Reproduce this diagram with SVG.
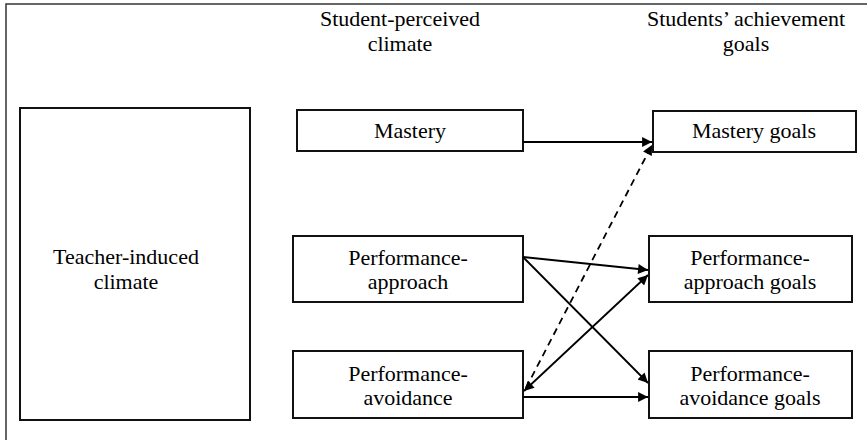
<svg xmlns="http://www.w3.org/2000/svg" width="867" height="440" viewBox="0 0 867 440">
<style>
  .box{fill:#fff;stroke:#111;stroke-width:2}
  text{font-family:'Liberation Serif','Times New Roman','DejaVu Serif',serif;font-size:22px;fill:#000;text-anchor:middle}
  .c{stroke:#000;stroke-width:1.8;fill:none}
  .d{stroke-dasharray:7,5}
</style>
<defs>
  <marker id="ah" viewBox="0 0 10 10" refX="10" refY="5" markerWidth="6.5" markerHeight="5.5" markerUnits="strokeWidth" orient="auto-start-reverse">
    <path d="M0,0 L10,5 L0,10 z" fill="#000"/>
  </marker>
</defs>
<rect x="0" y="0" width="867" height="440" fill="#fff"/>
<path d="M6,440 V4 H867" fill="none" stroke="#333" stroke-width="1.5"/>
<g id="header-perceived">
  <text x="400" y="26">Student-perceived</text>
  <text x="400" y="51">climate</text>
</g>
<g id="header-goals">
  <text x="746" y="26">Students’ achievement</text>
  <text x="746" y="51">goals</text>
</g>
<g id="teacher">
  <rect class="box" x="20" y="108" width="230" height="312"/>
  <text x="126" y="264">Teacher-induced</text>
  <text x="126" y="289">climate</text>
</g>
<g id="mastery">
  <rect class="box" x="297" y="110" width="226" height="41"/>
  <text x="410" y="138">Mastery</text>
</g>
<g id="perf-approach">
  <rect class="box" x="293" y="236" width="230" height="66"/>
  <text x="408" y="265">Performance-</text>
  <text x="408" y="289">approach</text>
</g>
<g id="perf-avoidance">
  <rect class="box" x="293" y="351" width="230" height="67"/>
  <text x="408" y="381">Performance-</text>
  <text x="408" y="405">avoidance</text>
</g>
<g id="mastery-goals">
  <rect class="box" x="653" y="111" width="203" height="41"/>
  <text x="754" y="138">Mastery goals</text>
</g>
<g id="pa-goals">
  <rect class="box" x="649" y="236" width="203" height="66"/>
  <text x="750" y="265">Performance-</text>
  <text x="750" y="289">approach goals</text>
</g>
<g id="pav-goals">
  <rect class="box" x="649" y="351" width="203" height="67"/>
  <text x="750" y="381">Performance-</text>
  <text x="750" y="405">avoidance goals</text>
</g>
<g id="connectors">
  <line class="c" x1="523" y1="142" x2="652" y2="142" marker-end="url(#ah)"/>
  <line class="c d" x1="526" y1="388" x2="652" y2="145" marker-end="url(#ah)"/>
  <line class="c" x1="523" y1="257" x2="648" y2="270" marker-end="url(#ah)"/>
  <line class="c" x1="523" y1="257" x2="648" y2="383" marker-end="url(#ah)"/>
  <line class="c" x1="524" y1="391" x2="648" y2="275" marker-start="url(#ah)" marker-end="url(#ah)"/>
  <line class="c" x1="523" y1="397" x2="648" y2="397" marker-end="url(#ah)"/>
</g>
</svg>
